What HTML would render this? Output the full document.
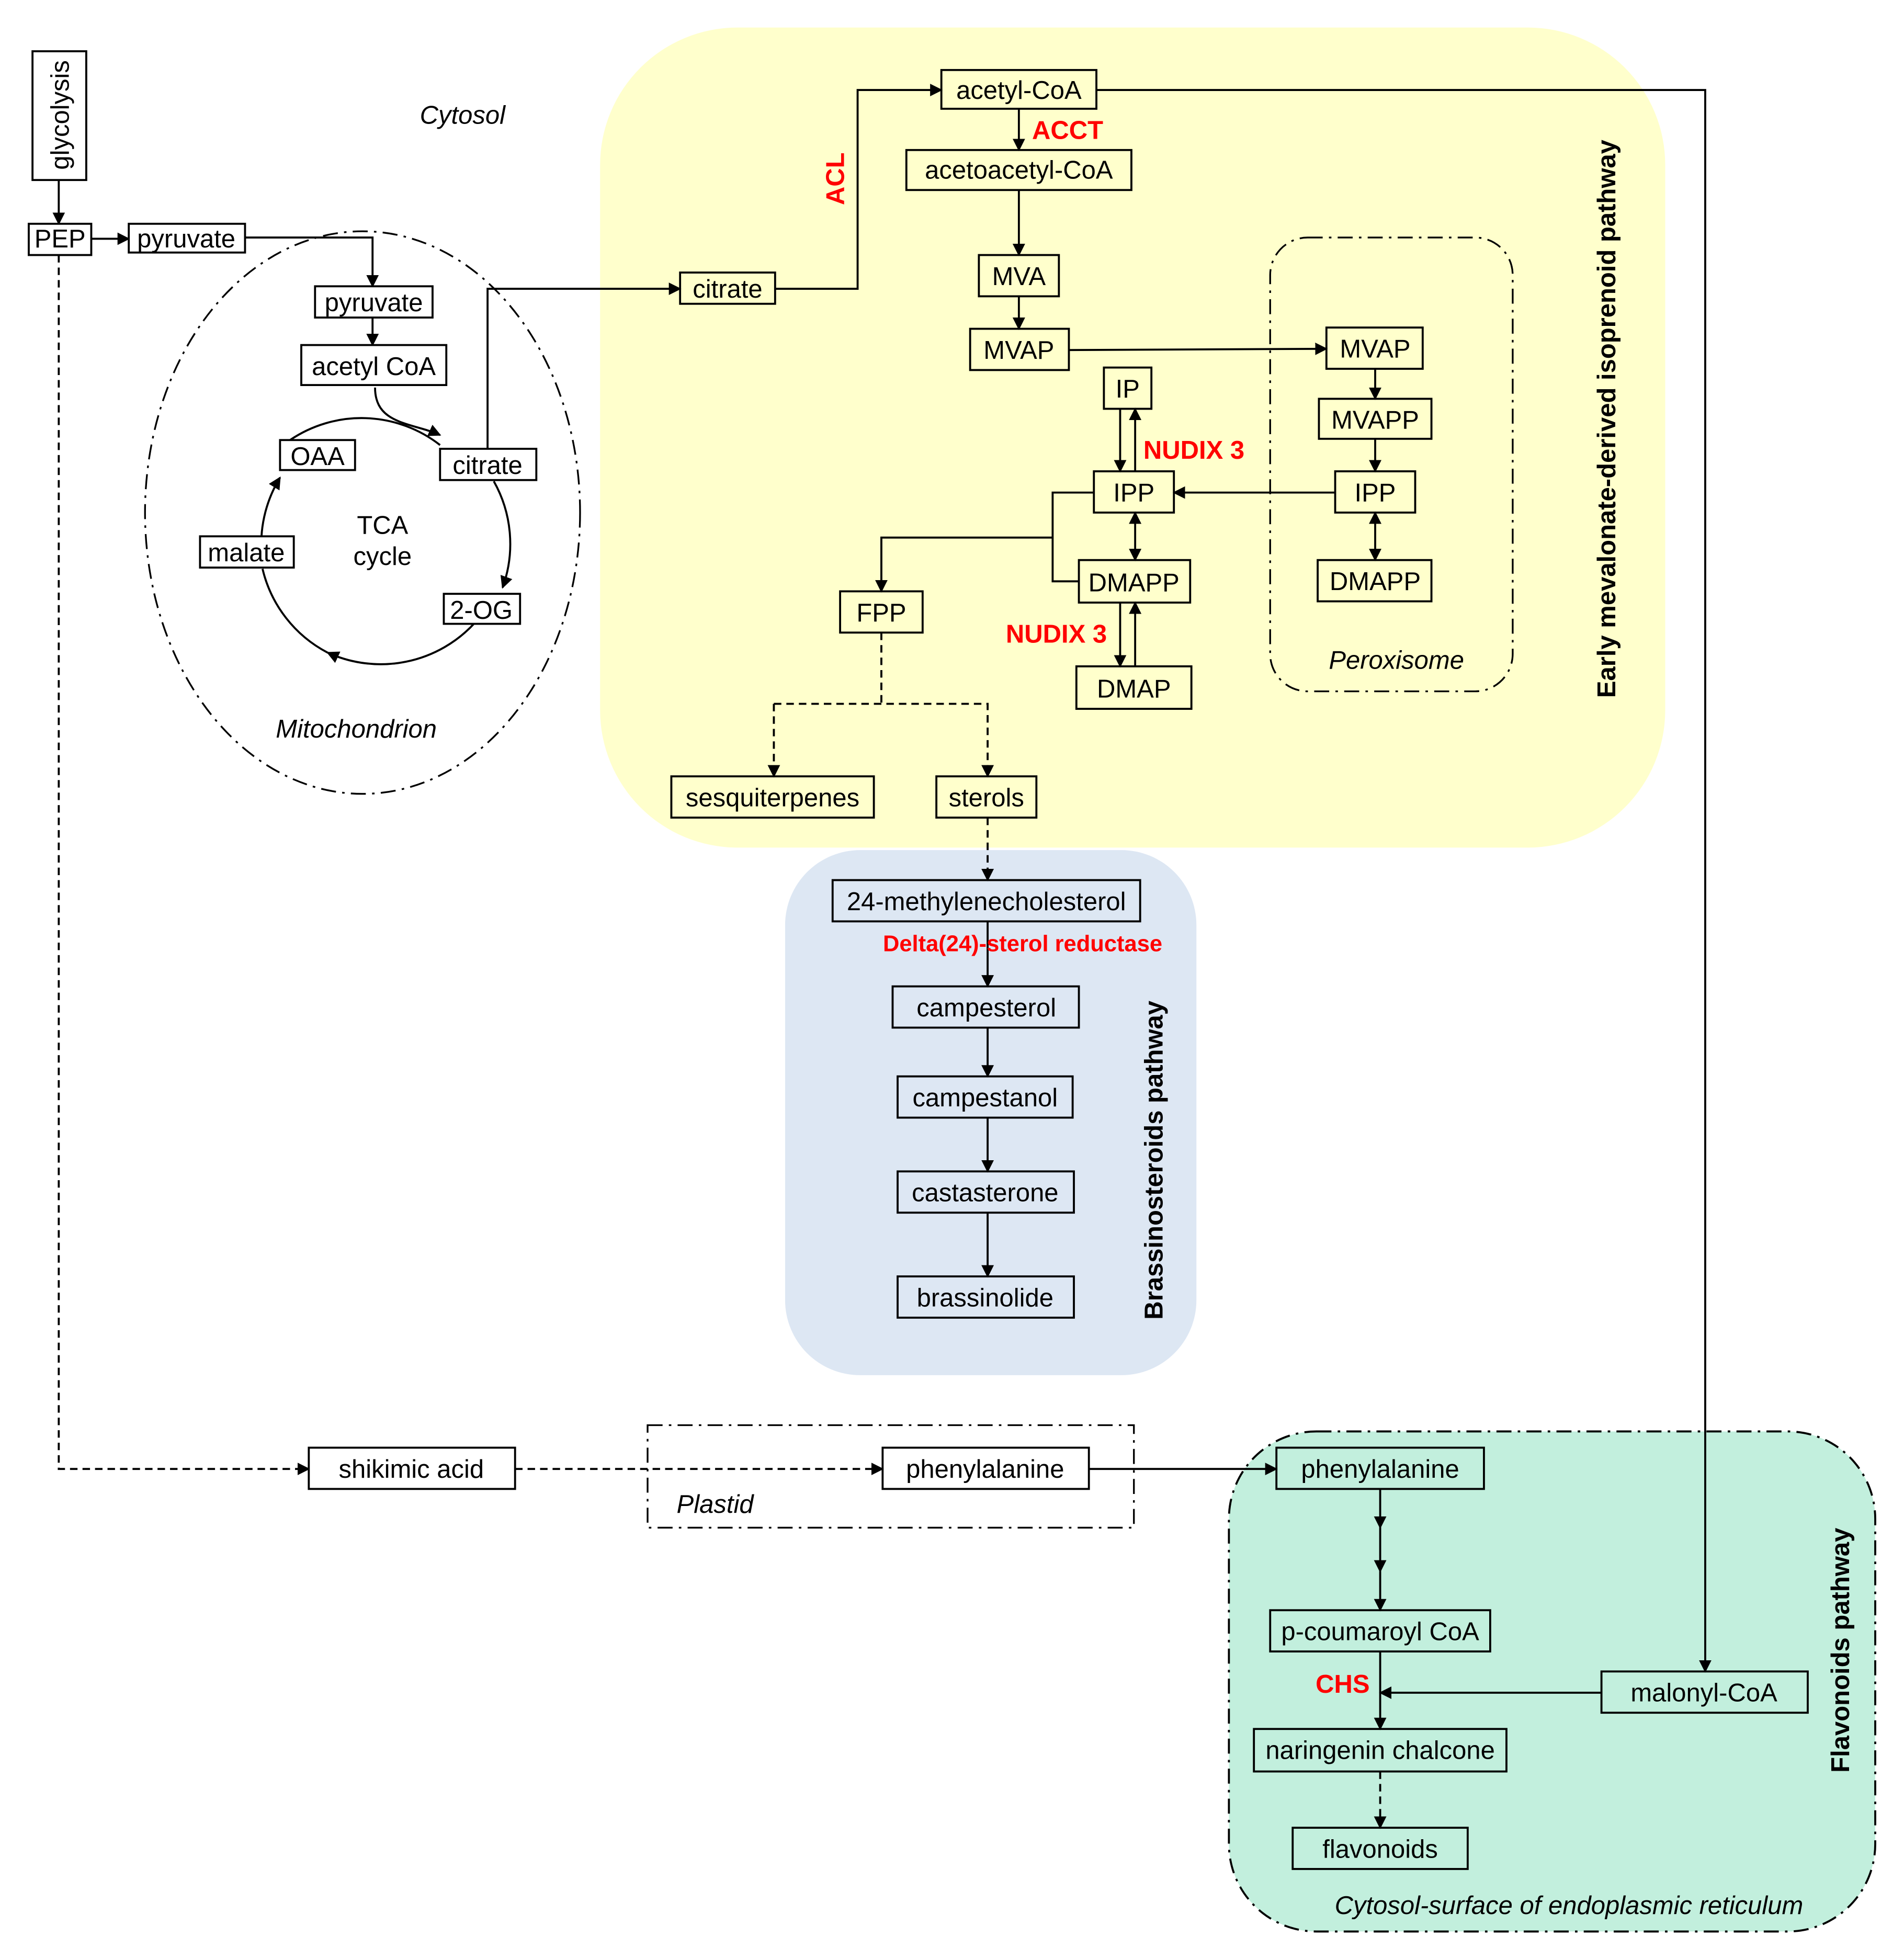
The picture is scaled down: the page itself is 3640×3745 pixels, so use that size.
<!DOCTYPE html>
<html><head><meta charset="utf-8"><style>html,body{margin:0;padding:0;background:#fff}svg{display:block}</style></head>
<body>
<svg xmlns="http://www.w3.org/2000/svg" width="3640" height="3745" viewBox="0 0 1523 1567" preserveAspectRatio="none" font-family="Liberation Sans, sans-serif">
<defs>
<marker id="a" markerWidth="10" markerHeight="10" refX="9" refY="5" orient="auto" markerUnits="userSpaceOnUse"><path d="M0,0 L10,5 L0,10 z" fill="#000"/></marker>
<marker id="s" markerWidth="10" markerHeight="10" refX="1" refY="5" orient="auto" markerUnits="userSpaceOnUse"><path d="M10,0 L0,5 L10,10 z" fill="#000"/></marker>
</defs>
<rect width="1523" height="1567" fill="#fff"/>
<rect x="480" y="22" width="852" height="656" rx="110" fill="#FFFFCC"/>
<rect x="628" y="680" width="329" height="420" rx="60" fill="#DDE7F3"/>
<rect x="983" y="1145" width="517" height="400" rx="70" fill="#C2EFDD" stroke="#000" stroke-width="1.6" stroke-dasharray="12,5,2,5"/>
<ellipse cx="290" cy="410" rx="174" ry="225" fill="none" stroke="#000" stroke-width="1.4" stroke-dasharray="12,5,2,5"/>
<rect x="1016" y="190" width="194" height="363" rx="30" fill="none" stroke="#000" stroke-width="1.4" stroke-dasharray="12,5,2,5"/>
<rect x="518" y="1140" width="389" height="82" fill="none" stroke="#000" stroke-width="1.4" stroke-dasharray="12,5,2,5"/>

<g fill="none" stroke="#000" stroke-width="1.6">
<path d="M209,438 A102,102 0 0 1 224,382" marker-end="url(#a)"/>
<path d="M232,352 A102,102 0 0 1 352,356"/>
<path d="M300,310 C300,340 330,338 352,348" marker-end="url(#a)"/>
<path d="M395,385 A102,102 0 0 1 402,470" marker-end="url(#a)"/>
<path d="M380,498 A102,102 0 0 1 262,522" marker-end="url(#a)"/>
<path d="M262,522 A102,102 0 0 1 210,455"/>
<line x1="47" y1="144" x2="47" y2="179" marker-end="url(#a)"/>
<line x1="73" y1="191" x2="103" y2="191" marker-end="url(#a)"/>
<polyline points="196,190 298,190 298,229" marker-end="url(#a)"/>
<line x1="298" y1="254" x2="298" y2="276" marker-end="url(#a)"/>
<polyline points="390,359 390,231 544,231" marker-end="url(#a)"/>
<polyline points="620,231 686,231 686,72 753,72" marker-end="url(#a)"/>
<polyline points="877,72 1364,72 1364,1337" marker-end="url(#a)"/>
<line x1="815" y1="87" x2="815" y2="120" marker-end="url(#a)"/>
<line x1="815" y1="152" x2="815" y2="204" marker-end="url(#a)"/>
<line x1="815" y1="237" x2="815" y2="263" marker-end="url(#a)"/>
<line x1="855" y1="280" x2="1061" y2="279" marker-end="url(#a)"/>
<line x1="1100" y1="295" x2="1100" y2="319" marker-end="url(#a)"/>
<line x1="1100" y1="351" x2="1100" y2="377" marker-end="url(#a)"/>
<line x1="1100" y1="410" x2="1100" y2="448" marker-start="url(#s)" marker-end="url(#a)"/>
<line x1="1068" y1="394" x2="939" y2="394" marker-end="url(#a)"/>
<line x1="896" y1="327" x2="896" y2="377" marker-end="url(#a)"/>
<line x1="908" y1="377" x2="908" y2="327" marker-end="url(#a)"/>
<line x1="908" y1="410" x2="908" y2="448" marker-start="url(#s)" marker-end="url(#a)"/>
<line x1="896" y1="482" x2="896" y2="533" marker-end="url(#a)"/>
<line x1="908" y1="533" x2="908" y2="482" marker-end="url(#a)"/>
<polyline points="875,394 842,394 842,465 863,465"/>
<polyline points="842,430 705,430 705,473" marker-end="url(#a)"/>
<g stroke-dasharray="6,4">
<line x1="705" y1="506" x2="705" y2="563"/>
<polyline points="619,563 619,621" marker-end="url(#a)"/>
<polyline points="619,563 790,563 790,621" marker-end="url(#a)"/>
<line x1="790" y1="654" x2="790" y2="704" marker-end="url(#a)"/>
<polyline points="47,204 47,1175 247,1175" marker-end="url(#a)"/>
<line x1="412" y1="1175" x2="706" y2="1175" marker-end="url(#a)"/>
<line x1="1104" y1="1417" x2="1104" y2="1462" marker-end="url(#a)"/>
</g>
<line x1="790" y1="737" x2="790" y2="789" marker-end="url(#a)"/>
<line x1="790" y1="822" x2="790" y2="861" marker-end="url(#a)"/>
<line x1="790" y1="894" x2="790" y2="937" marker-end="url(#a)"/>
<line x1="790" y1="970" x2="790" y2="1021" marker-end="url(#a)"/>
<line x1="871" y1="1175" x2="1021" y2="1175" marker-end="url(#a)"/>
<line x1="1104" y1="1191" x2="1104" y2="1222" marker-end="url(#a)"/>
<line x1="1104" y1="1222" x2="1104" y2="1257" marker-end="url(#a)"/>
<line x1="1104" y1="1257" x2="1104" y2="1288" marker-end="url(#a)"/>
<line x1="1104" y1="1321" x2="1104" y2="1383" marker-end="url(#a)"/>
<line x1="1281" y1="1354" x2="1104" y2="1354" marker-end="url(#a)"/>
</g>

<g fill="#fff" stroke="#000" stroke-width="1.6">
<rect x="26" y="41" width="43" height="103"/>
<rect x="23" y="179" width="50" height="25"/>
<rect x="103" y="179" width="93" height="23"/>
<rect x="252" y="229" width="94" height="25"/>
<rect x="241" y="276" width="116" height="32"/>
<rect x="224" y="352" width="60" height="24"/>
<rect x="352" y="359" width="77" height="25"/>
<rect x="160" y="429" width="75" height="25"/>
<rect x="355" y="475" width="61" height="24"/>
<rect x="247" y="1158" width="165" height="33"/>
</g>
<g fill="none" stroke="#000" stroke-width="1.6">
<rect x="544" y="218" width="76" height="25"/>
<rect x="753" y="56" width="124" height="31"/>
<rect x="725" y="120" width="180" height="32"/>
<rect x="783" y="204" width="64" height="33"/>
<rect x="776" y="263" width="79" height="33"/>
<rect x="1061" y="262" width="77" height="33"/>
<rect x="1055" y="319" width="90" height="32"/>
<rect x="1068" y="377" width="64" height="33"/>
<rect x="1054" y="448" width="91" height="33"/>
<rect x="883" y="294" width="38" height="33"/>
<rect x="875" y="377" width="64" height="33"/>
<rect x="863" y="448" width="89" height="34"/>
<rect x="861" y="533" width="92" height="34"/>
<rect x="672" y="473" width="66" height="33"/>
<rect x="537" y="621" width="162" height="33"/>
<rect x="749" y="621" width="80" height="33"/>
<rect x="666" y="704" width="246" height="33"/>
<rect x="714" y="789" width="149" height="33"/>
<rect x="718" y="861" width="140" height="33"/>
<rect x="718" y="937" width="141" height="33"/>
<rect x="718" y="1021" width="141" height="33"/>
<rect x="706" y="1158" width="165" height="33"/>
<rect x="1021" y="1158" width="166" height="33"/>
<rect x="1016" y="1288" width="176" height="33"/>
<rect x="1281" y="1337" width="165" height="33"/>
<rect x="1003" y="1383" width="202" height="34"/>
<rect x="1034" y="1462" width="140" height="33"/>
</g>

<g font-size="20.5" text-anchor="middle" fill="#000">
<text transform="translate(55,92) rotate(-90)">glycolysis</text>
<text x="48" y="198">PEP</text>
<text x="149" y="198">pyruvate</text>
<text x="299" y="249">pyruvate</text>
<text x="299" y="300">acetyl CoA</text>
<text x="254" y="372">OAA</text>
<text x="390" y="379">citrate</text>
<text x="197" y="449">malate</text>
<text x="385" y="495">2-OG</text>
<text x="306" y="427">TCA</text>
<text x="306" y="452">cycle</text>
<text x="582" y="238">citrate</text>
<text x="815" y="79">acetyl-CoA</text>
<text x="815" y="143">acetoacetyl-CoA</text>
<text x="815" y="228">MVA</text>
<text x="815" y="287">MVAP</text>
<text x="1100" y="286">MVAP</text>
<text x="1100" y="343">MVAPP</text>
<text x="1100" y="401">IPP</text>
<text x="1100" y="472">DMAPP</text>
<text x="902" y="318">IP</text>
<text x="907" y="401">IPP</text>
<text x="907" y="473">DMAPP</text>
<text x="907" y="558">DMAP</text>
<text x="705" y="497">FPP</text>
<text x="618" y="645">sesquiterpenes</text>
<text x="789" y="645">sterols</text>
<text x="789" y="728">24-methylenecholesterol</text>
<text x="789" y="813">campesterol</text>
<text x="788" y="885">campestanol</text>
<text x="788" y="961">castasterone</text>
<text x="788" y="1045">brassinolide</text>
<text x="329" y="1182">shikimic acid</text>
<text x="788" y="1182">phenylalanine</text>
<text x="1104" y="1182">phenylalanine</text>
<text x="1104" y="1312">p-coumaroyl CoA</text>
<text x="1363" y="1361">malonyl-CoA</text>
<text x="1104" y="1407">naringenin chalcone</text>
<text x="1104" y="1486">flavonoids</text>
</g>
<g font-size="20.5" font-style="italic" text-anchor="middle">
<text x="370" y="99">Cytosol</text>
<text x="285" y="590">Mitochondrion</text>
<text x="1117" y="535">Peroxisome</text>
<text x="572" y="1210">Plastid</text>
<text x="1255" y="1531">Cytosol-surface of endoplasmic reticulum</text>
</g>
<g font-size="20.5" font-weight="bold" text-anchor="middle">
<text transform="translate(1292,335) rotate(-90)">Early mevalonate-derived isoprenoid pathway</text>
<text transform="translate(930,928) rotate(-90)">Brassinosteroids pathway</text>
<text transform="translate(1479,1320) rotate(-90)">Flavonoids pathway</text>
</g>
<g font-size="20.5" font-weight="bold" fill="#f00" text-anchor="middle">
<text x="854" y="111">ACCT</text>
<text transform="translate(675,143) rotate(-90)">ACL</text>
<text x="955" y="367">NUDIX 3</text>
<text x="845" y="514">NUDIX 3</text>
<text x="818" y="761" font-size="18.2">Delta(24)-sterol reductase</text>
<text x="1074" y="1354">CHS</text>
</g>
</svg>
</body></html>
